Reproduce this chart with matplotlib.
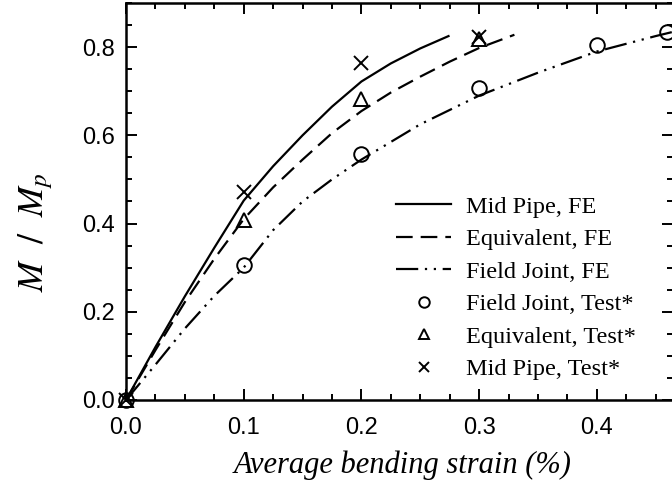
import matplotlib
matplotlib.use("Agg")
import matplotlib.pyplot as plt
from matplotlib.ticker import MultipleLocator

plt.rcParams["mathtext.fontset"] = "stix"

# FE moment-strain curves
mid_fe_x = [0, 0.025, 0.05, 0.075, 0.1, 0.125, 0.15, 0.175, 0.2, 0.225, 0.25, 0.274]
mid_fe_y = [0, 0.12, 0.235, 0.345, 0.452, 0.53, 0.60, 0.665, 0.722, 0.763, 0.797, 0.825]

eq_fe_x = [0, 0.025, 0.05, 0.075, 0.1, 0.125, 0.15, 0.175, 0.2, 0.225, 0.25, 0.275, 0.3, 0.33]
eq_fe_y = [0, 0.113, 0.222, 0.32, 0.41, 0.482, 0.545, 0.605, 0.655, 0.697, 0.733, 0.767, 0.798, 0.828]

fj_fe_x = [0, 0.025, 0.05, 0.075, 0.1, 0.125, 0.15, 0.175, 0.2, 0.25, 0.3, 0.35, 0.4, 0.45, 0.47]
fj_fe_y = [0, 0.08, 0.162, 0.236, 0.30, 0.385, 0.45, 0.50, 0.545, 0.625, 0.69, 0.742, 0.79, 0.825, 0.838]

# test data
fj_test_x = [0, 0.1, 0.2, 0.3, 0.4, 0.46]
fj_test_y = [0, 0.306, 0.558, 0.707, 0.805, 0.835]
eq_test_x = [0, 0.1, 0.2, 0.3]
eq_test_y = [0, 0.408, 0.683, 0.818]
mid_test_x = [0, 0.1, 0.2, 0.3]
mid_test_y = [0, 0.472, 0.764, 0.822]

fig = plt.figure(figsize=(6.72, 4.87), dpi=100)
ax = fig.add_axes([126 / 672, 87 / 487, 547 / 672, 397 / 487])

lw = 1.6
ax.plot(mid_fe_x, mid_fe_y, color="black", lw=lw, label="Mid Pipe, FE")
ax.plot(eq_fe_x, eq_fe_y, color="black", lw=lw, linestyle=(0, (7.5, 3.6)),
        label="Equivalent, FE")
ax.plot(fj_fe_x, fj_fe_y, color="black", lw=lw,
        linestyle=(0, (10, 3, 1, 3, 1, 3)), label="Field Joint, FE")

mk = dict(color="black", linestyle="none", markersize=10.5, markeredgewidth=1.4,
          markerfacecolor="none", clip_on=False, zorder=3)
ax.plot(fj_test_x, fj_test_y, marker="o", label="Field Joint, Test*", **mk)
ax.plot(eq_test_x, eq_test_y, marker="^", label="Equivalent, Test*", **mk)
ax.plot(mid_test_x, mid_test_y, marker="x", label="Mid Pipe, Test*", **mk)

ax.set_xlim(0, 547 / 1177)
ax.set_ylim(0, 0.9)
ax.xaxis.set_major_locator(MultipleLocator(0.1))
ax.xaxis.set_minor_locator(MultipleLocator(0.025))
ax.yaxis.set_major_locator(MultipleLocator(0.2))
ax.yaxis.set_minor_locator(MultipleLocator(0.05))
ax.xaxis.set_major_formatter(plt.FormatStrFormatter("%.1f"))
ax.yaxis.set_major_formatter(plt.FormatStrFormatter("%.1f"))

ax.tick_params(which="both", direction="in", top=True, right=True, width=1.4)
ax.tick_params(which="major", length=8, labelsize=17)
ax.tick_params(axis="y", which="major", pad=8)
ax.tick_params(axis="x", which="major", pad=12)
ax.tick_params(which="minor", length=4.5)
for lab in ax.get_xticklabels() + ax.get_yticklabels():
    lab.set_fontfamily("Liberation Sans")
for sp in ax.spines.values():
    sp.set_linewidth(1.8)

ax.set_xlabel("Average bending strain (%)", fontfamily="Liberation Serif",
              fontstyle="italic", fontsize=22)
ax.xaxis.set_label_coords(0.505, -0.127)
ax.set_ylabel(r"$M\ \ /\ \ M_p$", fontsize=26)
ax.yaxis.set_label_coords(-0.13, 0.423)

ax.legend(loc="upper left", bbox_to_anchor=(0.472, 0.545), frameon=False,
          prop={"family": "Liberation Serif", "size": 17.5},
          handlelength=2.26, handletextpad=0.62, labelspacing=0.43,
          borderpad=0, markerscale=0.72)

fig.savefig("out.png", dpi=100)
